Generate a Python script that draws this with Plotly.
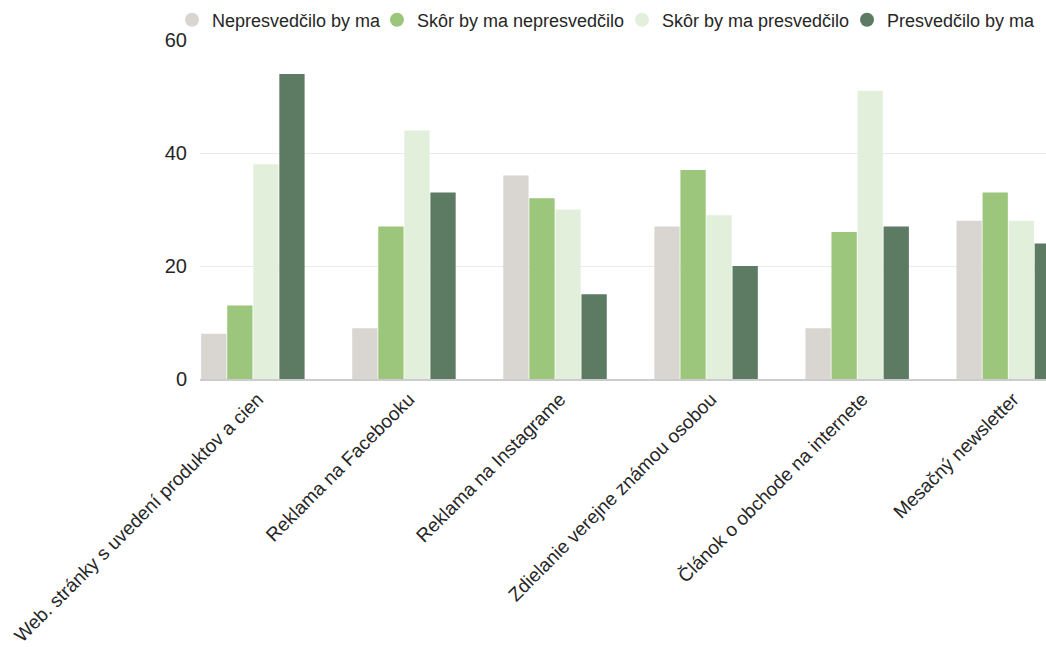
import plotly.graph_objects as go

categories = [
    "Web. stránky s uvedení produktov a cien",
    "Reklama na Facebooku",
    "Reklama na Instagrame",
    "Zdielanie verejne známou osobou",
    "Článok o obchode na internete",
    "Mesačný newsletter",
]
series_names = ["Nepresvedčilo by ma", "Skôr by ma nepresvedčilo", "Skôr by ma presvedčilo", "Presvedčilo by ma"]
nepresvedcilo = [8, 9, 36, 27, 9, 28]
skor_nepresvedcilo = [13, 27, 32, 37, 26, 33]
skor_presvedcilo = [38, 44, 30, 29, 51, 28]
presvedcilo = [54, 33, 15, 20, 27, 24]
values = [nepresvedcilo, skor_nepresvedcilo, skor_presvedcilo, presvedcilo]
colors = ["#d9d5d1", "#9cc67b", "#e2efda", "#5d7a63"]
y_ticks = [0, 20, 40, 60]

FONT = "Liberation Sans, Arial, sans-serif"
TXT = "#262626"
fig = go.Figure()
for name, vals, col in zip(series_names, values, colors):
    fig.add_trace(go.Bar(x=categories, y=vals, name=name, marker=dict(color=col, line=dict(width=0)),
                         showlegend=False))

legend_x = [-0.0331, 0.2092, 0.4988, 0.7648]
legend_keys = ["legend", "legend2", "legend3", "legend4"]
for name, col, key in zip(series_names, colors, legend_keys):
    fig.add_trace(go.Scatter(x=[None], y=[None], mode="markers", name=name,
                             marker=dict(color=col, size=14, symbol="circle"),
                             showlegend=True, legend=key))

legend_common = dict(orientation="h", yanchor="middle", y=1.059, xanchor="left",
                     font=dict(family=FONT, size=18, color=TXT),
                     bgcolor="rgba(0,0,0,0)", borderwidth=0, itemwidth=30)
layout_legends = {}
for key, lx in zip(legend_keys, legend_x):
    layout_legends[key] = dict(legend_common, x=lx)

fig.update_layout(
    width=1046, height=647,
    margin=dict(l=200, r=0, t=40, b=268),
    paper_bgcolor="white", plot_bgcolor="white",
    barmode="group", bargap=0.31, bargroupgap=0.03,
    font=dict(family=FONT, size=19, color=TXT),
    xaxis=dict(range=[-0.35, 5.25], tickangle=-45, showgrid=False,
               tickfont=dict(family=FONT, size=19, color=TXT), ticklabelshift=5,
               showline=True, linecolor="#cccccc", linewidth=1.5, ticks=""),
    yaxis=dict(range=[0, 60], tickvals=y_ticks, showgrid=True, gridcolor="#ebebeb", gridwidth=1,
               zeroline=False, showline=False, ticks="", ticklabelstandoff=12,
               tickfont=dict(family=FONT, size=20, color=TXT)),
    **layout_legends,
)

fig.write_html("out.html")
